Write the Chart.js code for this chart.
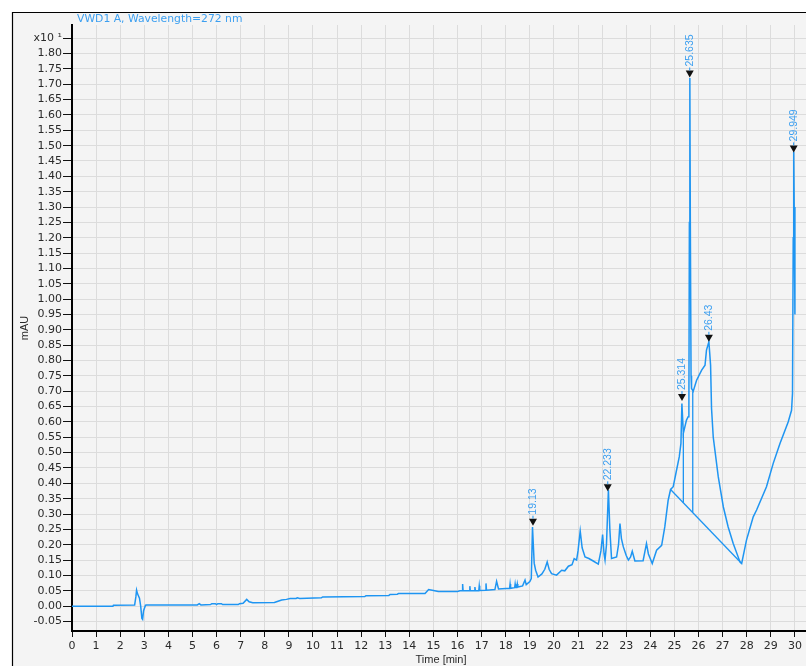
<!DOCTYPE html>
<html>
<head>
<meta charset="utf-8">
<script src="https://cdn.jsdelivr.net/npm/chart.js@4.4.1/dist/chart.umd.min.js"></script>
<style>
  html, body { margin: 0; padding: 0; background: #fff; }
  #wrap { width: 806px; height: 666px; }
</style>
</head>
<body>
<div id="wrap"><canvas id="chromChart" width="806" height="666"></canvas></div>
<script>
// retention time (min) and detector signal (mAU x10)
const timeMin = [
  0.00, 1.70, 1.72, 2.60, 2.65, 2.68, 2.72, 2.80, 2.85, 2.90, 2.93, 2.97, 3.05, 3.10,
  5.20, 5.28, 5.35, 5.75, 5.80, 5.95, 6.00, 6.05, 6.20, 6.25, 6.90, 6.95, 7.10, 7.25,
  7.35, 7.50, 8.40, 8.55, 8.70, 8.90, 9.05, 9.30, 9.35, 9.45, 10.35, 10.40, 12.15, 12.20,
  13.15, 13.20, 13.50, 13.55, 14.65, 14.80, 15.00, 15.20, 16.00, 16.10, 16.19, 16.21, 16.23,
  16.49, 16.51, 16.53, 16.70, 16.72, 16.74, 16.88, 16.90, 16.92, 17.16, 17.18, 17.20,
  17.55, 17.62, 17.70, 18.16, 18.18, 18.20, 18.37, 18.39, 18.41, 18.46, 18.48, 18.50,
  18.70, 18.80, 18.85, 19.00, 19.06, 19.11, 19.18, 19.24, 19.34, 19.50, 19.62, 19.72,
  19.80, 19.90, 20.11, 20.32, 20.45, 20.60, 20.75, 20.84, 20.94, 21.00, 21.09, 21.17,
  21.29, 21.45, 21.63, 21.84, 21.95, 22.02, 22.08, 22.12, 22.18, 22.26, 22.32, 22.39,
  22.60, 22.68, 22.74, 22.80, 22.88, 23.00, 23.09, 23.18, 23.25, 23.36, 23.70, 23.78,
  23.84, 23.92, 24.08, 24.26, 24.47, 24.60, 24.74, 24.84, 24.95, 25.06, 25.20, 25.27,
  25.31, 25.37, 25.50, 25.57, 25.60, 25.62, 25.64, 25.66, 25.69, 25.71, 25.78, 25.92,
  26.13, 26.27, 26.33, 26.43, 26.50, 26.54, 26.61, 26.82, 27.03, 27.23, 27.44, 27.72,
  27.79, 27.99, 28.27, 28.41, 28.82, 29.10, 29.38, 29.72, 29.86, 29.90, 29.93, 29.95,
  29.97, 30.00
];
const signal = [
  0.000, 0.000, 0.003, 0.004, 0.030, 0.052, 0.040, 0.026, 0.000, -0.040, -0.043, -0.015, 0.003, 0.004,
  0.004, 0.008, 0.004, 0.005, 0.008, 0.008, 0.005, 0.008, 0.008, 0.005, 0.005, 0.008, 0.009, 0.022,
  0.014, 0.011, 0.012, 0.016, 0.020, 0.022, 0.025, 0.025, 0.027, 0.025, 0.027, 0.030, 0.031, 0.034,
  0.035, 0.038, 0.039, 0.041, 0.041, 0.054, 0.051, 0.048, 0.048, 0.050, 0.050, 0.072, 0.050,
  0.050, 0.065, 0.050, 0.050, 0.062, 0.050, 0.050, 0.066, 0.051, 0.052, 0.074, 0.052,
  0.054, 0.081, 0.056, 0.058, 0.072, 0.058, 0.060, 0.072, 0.061, 0.061, 0.072, 0.062,
  0.066, 0.085, 0.070, 0.080, 0.090, 0.258, 0.140, 0.117, 0.095, 0.105, 0.120, 0.144,
  0.120, 0.106, 0.101, 0.117, 0.115, 0.130, 0.135, 0.155, 0.150, 0.180, 0.245, 0.190,
  0.160, 0.155, 0.147, 0.137, 0.180, 0.233, 0.170, 0.150, 0.200, 0.378, 0.250, 0.155,
  0.160, 0.200, 0.269, 0.220, 0.193, 0.165, 0.150, 0.160, 0.179, 0.147, 0.148, 0.180,
  0.204, 0.170, 0.139, 0.182, 0.198, 0.258, 0.345, 0.380, 0.389, 0.432, 0.486, 0.530,
  0.660, 0.563, 0.606, 0.617, 0.650, 1.250, 1.720, 1.250, 0.750, 0.709, 0.700, 0.736,
  0.769, 0.785, 0.834, 0.861, 0.785, 0.644, 0.551, 0.421, 0.323, 0.258, 0.204, 0.144,
  0.139, 0.215, 0.291, 0.313, 0.389, 0.465, 0.530, 0.600, 0.638, 0.693, 1.200, 1.480,
  1.300, 0.950
];

// integration baseline and drop lines
const baseTimes = [24.84, 27.79];
const baseValues = [0.380, 0.139];
const dropTimes = [25.37, 25.76];
const dropLow = [0.337, 0.306];
const dropHigh = [0.563, 0.700];

// labelled peaks
const peakLabels = ['19.13', '22.233', '25.314', '25.635', '26.43', '29.949'];
const peakTimes = [19.13, 22.233, 25.314, 25.635, 26.43, 29.949];
const peakApex = [0.262, 0.374, 0.668, 1.722, 0.861, 1.478];

const xTickValues = [0,1,2,3,4,5,6,7,8,9,10,11,12,13,14,15,16,17,18,19,20,21,22,23,24,25,26,27,28,29,30];
const yTickValues = [-0.05,0.00,0.05,0.10,0.15,0.20,0.25,0.30,0.35,0.40,0.45,0.50,0.55,0.60,0.65,0.70,
  0.75,0.80,0.85,0.90,0.95,1.00,1.05,1.10,1.15,1.20,1.25,1.30,1.35,1.40,1.45,1.50,1.55,1.60,1.65,
  1.70,1.75,1.80,1.85];

const traceBlue = '#1e95f2';
const labelBlue = '#3c9ff0';
const axisFont = { family: 'DejaVu Sans', size: 11 };

const trace = timeMin.map((t, i) => ({ x: t, y: signal[i] }));
const baseline = baseTimes.map((t, i) => ({ x: t, y: baseValues[i] }));

const dropSets = dropTimes.map((t, i) => ({
  data: [{ x: t, y: dropLow[i] }, { x: t, y: dropHigh[i] }],
  borderColor: traceBlue, borderWidth: 1.3, pointRadius: 0
}));

// grey panel with the black frame on top and left
const framePlugin = {
  id: 'frame',
  beforeDraw(chart) {
    const ctx = chart.ctx;
    ctx.save();
    ctx.fillStyle = '#f4f4f4';
    ctx.fillRect(13, 13, chart.width - 13, chart.height - 13);
    ctx.strokeStyle = '#000';
    ctx.lineWidth = 1.2;
    ctx.beginPath();
    ctx.moveTo(12.5, chart.height);
    ctx.lineTo(12.5, 12.5);
    ctx.lineTo(chart.width, 12.5);
    ctx.stroke();
    ctx.restore();
  }
};

// triangles and rotated retention time labels
const peakPlugin = {
  id: 'peaks',
  afterDatasetsDraw(chart) {
    const ctx = chart.ctx;
    const xs = chart.scales.x, ys = chart.scales.y;
    ctx.save();
    peakTimes.forEach((t, i) => {
      const px = xs.getPixelForValue(t);
      const py = ys.getPixelForValue(peakApex[i]);
      ctx.fillStyle = '#111';
      ctx.beginPath();
      ctx.moveTo(px, py);
      ctx.lineTo(px - 4, py - 7);
      ctx.lineTo(px + 4, py - 7);
      ctx.closePath();
      ctx.fill();
      ctx.strokeStyle = traceBlue;
      ctx.lineWidth = 1;
      ctx.beginPath();
      ctx.moveTo(px, py - 7);
      ctx.lineTo(px, py - 10);
      ctx.stroke();
      ctx.translate(px, py - 11);
      ctx.rotate(-Math.PI / 2);
      ctx.fillStyle = labelBlue;
      ctx.font = '10.5px "Liberation Sans", Arial';
      ctx.textAlign = 'left';
      ctx.textBaseline = 'middle';
      ctx.fillText(peakLabels[i], 0, 0);
      ctx.setTransform(1, 0, 0, 1, 0, 0);
    });
    ctx.restore();
  }
};

const titlePlugin = {
  id: 'titles',
  afterDraw(chart) {
    const ctx = chart.ctx;
    const area = chart.chartArea;
    ctx.save();
    ctx.font = '10.8px "DejaVu Sans"';
    ctx.fillStyle = labelBlue;
    ctx.textAlign = 'left';
    ctx.textBaseline = 'middle';
    ctx.fillText('VWD1 A, Wavelength=272 nm', 77, 19);

    ctx.fillStyle = '#2a2a2a';
    ctx.font = '11px "Liberation Sans", Arial';
    ctx.textAlign = 'center';
    ctx.fillText('Time [min]', (area.left + area.right) / 2 + 2, 660);

    ctx.translate(25, 328);
    ctx.rotate(-Math.PI / 2);
    ctx.fillText('mAU', 0, 0);
    ctx.restore();
  }
};

new Chart(document.getElementById('chromChart'), {
  type: 'line',
  data: {
    datasets: [
      { data: trace, borderColor: traceBlue, borderWidth: 1.5, pointRadius: 0 },
      { data: baseline, borderColor: traceBlue, borderWidth: 1.3, pointRadius: 0 },
      ...dropSets
    ]
  },
  options: {
    responsive: false,
    animation: false,
    layout: { padding: { top: 25, left: 0, right: 0, bottom: 0 } },
    elements: { line: { tension: 0 } },
    plugins: {
      legend: { display: false },
      tooltip: { enabled: false },
      title: { display: false }
    },
    scales: {
      x: {
        type: 'linear',
        min: 0,
        max: 30.46,
        afterBuildTicks: s => { s.ticks = xTickValues.map(v => ({ value: v })); },
        afterFit: s => { s.height = 35; },
        ticks: { font: axisFont, color: '#2a2a2a', padding: 3, maxRotation: 0, autoSkip: false },
        grid: { color: '#dcdcdc', tickColor: '#111', tickLength: 6 },
        border: { color: '#000', width: 2 }
      },
      y: {
        type: 'linear',
        min: -0.081,
        max: 1.893,
        afterBuildTicks: s => { s.ticks = yTickValues.map(v => ({ value: v })); },
        afterFit: s => { s.width = 72; },
        ticks: {
          font: axisFont, color: '#2a2a2a', padding: 1, autoSkip: false,
          callback: v => (v > 1.84 ? 'x10 \u00b9' : v.toFixed(2))
        },
        grid: { color: '#dcdcdc', tickColor: '#111', tickLength: 9 },
        border: { color: '#000', width: 2 }
      }
    }
  },
  plugins: [framePlugin, peakPlugin, titlePlugin]
});
</script>
</body>
</html>
